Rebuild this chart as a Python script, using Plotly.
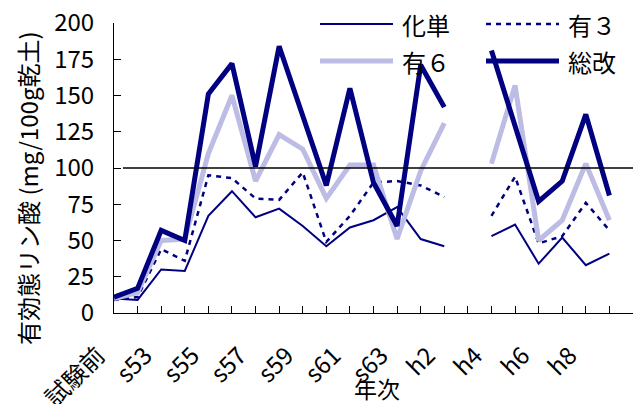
import plotly.graph_objects as go

# Categories (year of test); labels shown every other year
categories = ["試験前", "s52", "s53", "s54", "s55", "s56", "s57", "s58", "s59", "s60",
              "s61", "s62", "s63", "h1", "h2", "h3", "h4", "h5", "h6", "h7", "h8", "h9", "h10"]

# Available phosphate (mg/100g dry soil); h3 not measured
katan = [10, 9, 30, 29, 67, 84, 66, 72, 60, 46, 59, 64, 73, 51, 46, None, 53, 61, 34, 52, 33, 41]
yu3 = [9, 11, 44, 36, 95, 93, 79, 78, 97, 49, 67, 90, 91, 88, 80, None, 67, 94, 48, 53, 76, 57]
yu6 = [10, 14, 50, 51, 110, 150, 91, 123, 113, 79, 102, 102, 51, 98, 131, None, 103, 157, 50, 64, 103, 64]
sokai = [11, 17, 57, 50, 151, 172, 101, 184, 136, 88, 155, 90, 60, 171, 142, None, 181, 129, 77, 91, 137, 81]

series_names = ["化単", "有３", "有６", "総改"]
reference_level = 100
y_ticks = [0, 25, 50, 75, 100, 125, 150, 175, 200]

NAVY = "#000080"
LAVENDER = "#bcbce4"
FONT = "Noto Sans CJK JP"

styles = [
    dict(color=NAVY, width=2),
    dict(color=NAVY, width=2.5, dash="5px,5px"),
    dict(color=LAVENDER, width=5),
    dict(color=NAVY, width=5),
]
series = [katan, yu3, yu6, sokai]

fig = go.Figure()
for name, vals, st in zip(series_names, series, styles):
    fig.add_trace(go.Scatter(
        x=list(range(len(vals))), y=vals, mode="lines", name=name,
        line=st, connectgaps=False, showlegend=False,
    ))

W, H = 640, 404
L, R, T, B = 114, 7, 23, 91
pw, ph = W - L - R, H - T - B


def px(x):
    return (x - L) / pw


def py(y):
    return (H - B - y) / ph


# reference line at 100
fig.add_shape(type="line", xref="x", yref="y", x0=0.38, x1=len(categories) - 1,
              y0=reference_level, y1=reference_level, line=dict(color="black", width=1.3))

# hand-placed two-column legend
legend_rows = [(24, 0), (24, 1), (61, 0), (61, 1)]
for (ly, col), name, st in zip(legend_rows, series_names, styles):
    x0 = 320 if col == 0 else 486
    fig.add_shape(type="line", xref="paper", yref="paper",
                  x0=px(x0), x1=px(x0 + 73), y0=py(ly), y1=py(ly), line=st)
    fig.add_annotation(xref="paper", yref="paper", x=px(x0 + 80), y=py(ly),
                       text=name, showarrow=False, xanchor="left", yanchor="middle",
                       font=dict(size=24, color="black", family=FONT))

# axis titles
fig.add_annotation(xref="paper", yref="paper", x=px(27), y=py(188),
                   text="有効態リン酸 (mg/100g乾土)", textangle=-90, showarrow=False,
                   xanchor="center", yanchor="middle",
                   font=dict(size=24, color="black", family=FONT))
fig.add_annotation(xref="paper", yref="paper", x=px(377), y=py(388),
                   text="年次", showarrow=False, xanchor="center", yanchor="middle",
                   font=dict(size=23, color="black", family=FONT))

ticktext = [c if i % 2 == 0 and i < len(categories) - 1 else "" for i, c in enumerate(categories)]

fig.update_layout(
    width=W, height=H, autosize=False,
    margin=dict(l=L, r=R, t=T, b=B),
    paper_bgcolor="white", plot_bgcolor="white",
    font=dict(family=FONT, size=23, color="black"),
    xaxis=dict(
        range=[0, len(categories) - 1], automargin=False,
        tickmode="array", tickvals=list(range(len(categories))), ticktext=ticktext,
        tickangle=-45, ticks="inside", ticklen=7, tickcolor="black",
        showline=True, linecolor="black", linewidth=1, showgrid=False, zeroline=False,
        tickfont=dict(size=24), ticklabelstandoff=18, ticklabelshift=-16,
    ),
    yaxis=dict(
        range=[0, 200], tickmode="array", tickvals=y_ticks, automargin=False,
        ticks="inside", ticklen=7, tickcolor="black",
        showline=True, linecolor="black", linewidth=1, showgrid=False, zeroline=False,
        tickfont=dict(size=24), ticklabelstandoff=14,
    ),
)

fig.write_html("out.html")
